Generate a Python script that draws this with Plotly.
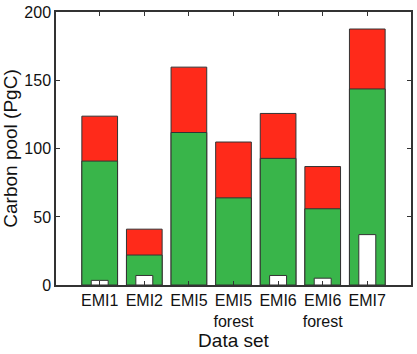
import plotly.graph_objects as go

categories = ["EMI1", "EMI2", "EMI5", "EMI5<br>forest", "EMI6", "EMI6<br>forest", "EMI7"]
total_pool = [124, 41, 160, 105, 126, 87, 188]
green_pool = [91, 22, 112, 64, 93, 56, 144]
white_pool = [3.4, 7, None, None, 7, 5, 37]
y_ticks = [0, 50, 100, 150, 200]

line = dict(color="#333333", width=1)
fig = go.Figure()
fig.add_trace(go.Bar(x=categories, y=total_pool, width=0.8, marker=dict(color="#FF2A1A", line=line)))
fig.add_trace(go.Bar(x=categories, y=green_pool, width=0.8, marker=dict(color="#39B54A", line=line)))
fig.add_trace(go.Bar(x=categories, y=white_pool, width=0.38, marker=dict(color="white", line=line)))

fig.update_layout(
    barmode="overlay",
    width=417, height=354,
    margin=dict(l=56, r=4, t=9, b=69),
    paper_bgcolor="white", plot_bgcolor="white",
    showlegend=False,
    font=dict(family="Arial", size=16, color="#111111"),
)
fig.update_xaxes(
    range=[-0.98, 6.98], showline=True, linecolor="#333333", linewidth=1.5, mirror="ticks",
    ticks="inside", ticklen=4, tickcolor="#333333",
    title=dict(text="Data set", standoff=4), tickfont=dict(size=16),
)
fig.update_yaxes(
    range=[0, 200.5], tickvals=y_ticks, ticktext=[str(v) for v in y_ticks],
    ticklabeloverflow="allow",
    showline=True, linecolor="#333333", linewidth=1.5, mirror="ticks",
    ticks="inside", ticklen=4, tickcolor="#333333", showgrid=False, zeroline=False,
    title=dict(text="Carbon pool (PgC)", standoff=6), tickfont=dict(size=16),
)
fig.write_html("out.html")
